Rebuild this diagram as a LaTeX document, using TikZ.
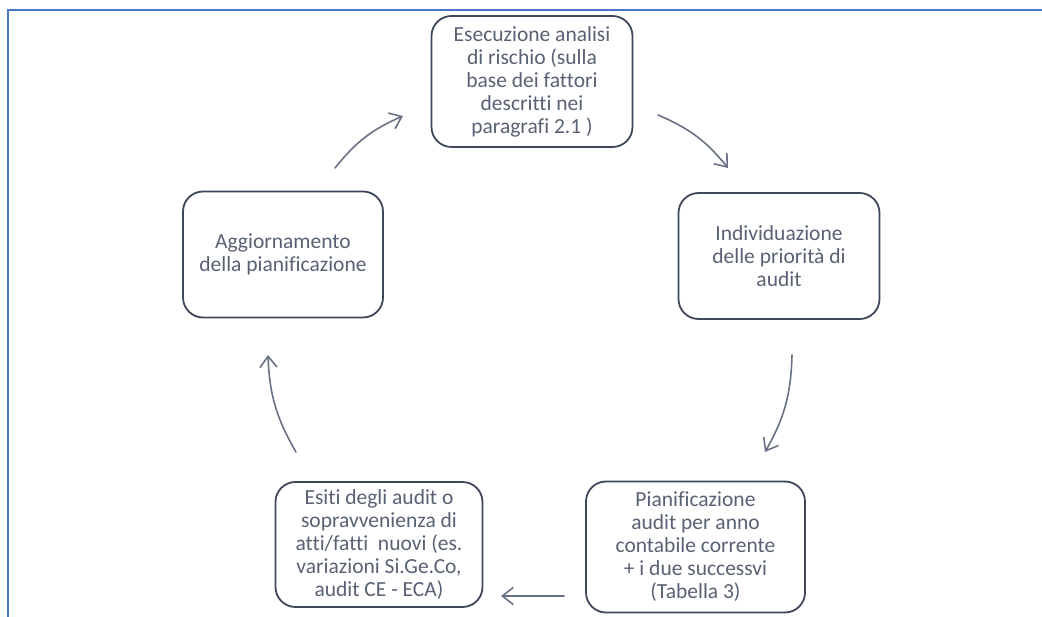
\documentclass[tikz,border=0pt]{standalone}
\usepackage{fontspec}
\setmainfont{Carlito}[Ligatures=CommonOff]
\usepackage{xcolor}
\usepackage{tikz}
\usetikzlibrary{
  arrows.meta,
  positioning
}
\definecolor{framblue}{RGB}{72,118,200}
\definecolor{boxslate}{RGB}{62,72,90}
\definecolor{textslate}{RGB}{88,98,116}
\definecolor{arrowslate}{RGB}{104,114,132}
\tikzset{
  stage/.style={draw=boxslate,line width=1.8pt,fill=white,
    rounded corners=20pt,align=center,inner sep=4pt,text=textslate,
    font=\fontsize{21.5}{23}\selectfont},
  cycleflow/.style={-{Straight Barb[length=11pt,width=17pt,line width=1.6pt]},
    line width=1.6pt,draw=arrowslate,line cap=round},
  framline/.style={draw=framblue,line width=2pt}
}

\begin{document}
\begin{tikzpicture}[x=1pt,y=-1pt]
  \useasboundingbox (0,0) rectangle (1042,617);
  \draw[framline] (7.5,617) -- (7.5,10.5) -- (1042,10.5);

  \node[stage,minimum width=201pt,minimum height=131pt] (analisi) at (532,81.5)
    {Esecuzione analisi\\di rischio (sulla\\base dei fattori\\descritti nei\\paragrafi 2.1 )};
  \node[stage,minimum width=201pt,minimum height=126pt] (priorita) at (779,256)
    {Individuazione\\delle priorità di\\audit};
  \node[stage,minimum width=219pt,minimum height=131pt] (pianif) at (695.5,547)
    {Pianificazione\\audit per anno\\contabile corrente\\+ i due successvi\\(Tabella 3)};
  \node[stage,minimum width=207pt,minimum height=125pt] (esiti) at (379,544.5)
    {Esiti degli audit o\\sopravvenienza di\\atti/fatti~ nuovi (es.\\variazioni Si.Ge.Co,\\audit CE - ECA)};
  \node[stage,minimum width=200pt,minimum height=126pt] (aggiorn) at (283,254.5)
    {Aggiornamento\\della pianificazione};

  % arrow ends between the boxes
  \coordinate (a1s) at (335,168);  \coordinate (a1e) at (403,116);
  \coordinate (a2s) at (658,115);  \coordinate (a2e) at (728,168);
  \coordinate (a3s) at (792,355);  \coordinate (a3e) at (765,452);
  \coordinate (a4s) at (564,596);  \coordinate (a4e) at (501,596);
  \coordinate (a5s) at (296,452);  \coordinate (a5e) at (268,355);

  \draw[cycleflow] (a1s) to[bend left=14] (a1e);
  \draw[cycleflow] (a2s) to[bend left=14] (a2e);
  \draw[cycleflow] (a3s) to[bend left=14] (a3e);
  \draw[cycleflow] (a4s) -- (a4e);
  \draw[cycleflow] (a5s) to[bend left=14] (a5e);
\end{tikzpicture}
\end{document}
